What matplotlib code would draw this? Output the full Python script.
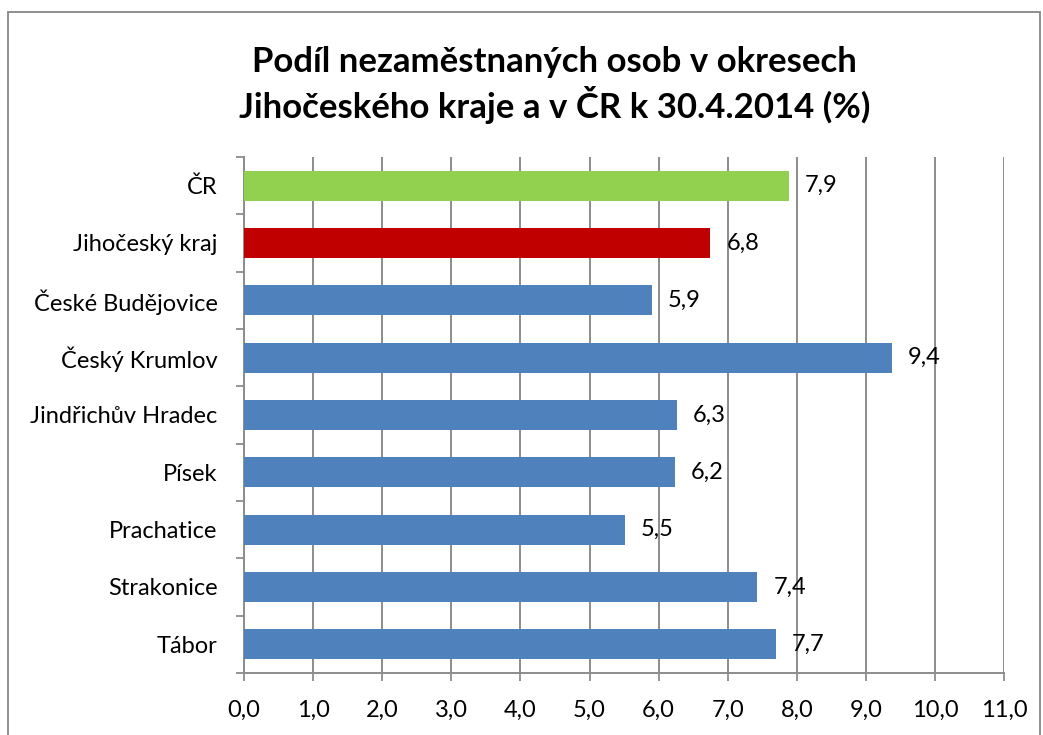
import matplotlib.pyplot as plt
from matplotlib.patches import Rectangle
from matplotlib.ticker import FixedLocator

plt.rcParams['font.family'] = ['Lato', 'DejaVu Sans']

# ========= DATA =========
okresy = ["ČR", "Jihočeský kraj", "České Budějovice", "Český Krumlov",
          "Jindřichův Hradec", "Písek", "Prachatice", "Strakonice", "Tábor"]
podil = [7.88, 6.75, 5.90, 9.38, 6.27, 6.24, 5.51, 7.43, 7.70]
barvy = ["#92D050", "#C00000", "#4F81BD", "#4F81BD", "#4F81BD",
         "#4F81BD", "#4F81BD", "#4F81BD", "#4F81BD"]
x_ticks = list(range(0, 12))

# ========= GRAF =========
fig = plt.figure(figsize=(10.43, 7.35), dpi=100)
ax = fig.add_axes([0.234, 0.0844, 0.7287, 0.702])

pos = list(range(len(okresy)))
ax.barh(pos, podil, height=0.52, color=barvy, zorder=3)
for p, v in zip(pos, podil):
    ax.text(v + 0.23, p, f"{v:.1f}".replace(".", ","), va="center", ha="left",
            fontsize=17, color="black", zorder=4)

ax.set_ylim(len(okresy) - 0.5, -0.5)
ax.set_xlim(0, 11)
ax.set_yticks(pos)
ax.set_yticklabels(okresy, fontsize=17)
ax.yaxis.set_minor_locator(FixedLocator([i - 0.5 for i in range(len(okresy) + 1)]))
ax.tick_params(axis="y", which="major", length=0, pad=19)
ax.tick_params(axis="y", which="minor", length=6, width=1.3, color="#8C8C8C")

ax.set_xticks(x_ticks)
ax.set_xticklabels([f"{t:.1f}".replace(".", ",") for t in x_ticks], fontsize=17)
ax.tick_params(axis="x", length=6, width=1.3, color="#8C8C8C", pad=13)

ax.grid(axis="x", color="#8C8C8C", linewidth=1.4, zorder=0)
for s in ["top", "right"]:
    ax.spines[s].set_visible(False)
for s in ["left", "bottom"]:
    ax.spines[s].set_color("#8C8C8C")
    ax.spines[s].set_linewidth(1.4)

fig.text(0.532, 0.916, "Podíl nezaměstnaných osob v okresech",
         ha="center", va="center", fontsize=25, fontweight="bold")
fig.text(0.532, 0.857, "Jihočeského kraje a v ČR k 30.4.2014 (%)",
         ha="center", va="center", fontsize=25, fontweight="bold")

# rámeček grafu
fig.patches.append(Rectangle((8 / 1043, -0.01), 1032 / 1043, 1 - 12 / 735 + 0.01,
                             transform=fig.transFigure, fill=False,
                             edgecolor="#878787", linewidth=1.3))

fig.savefig("out.png", dpi=100)
